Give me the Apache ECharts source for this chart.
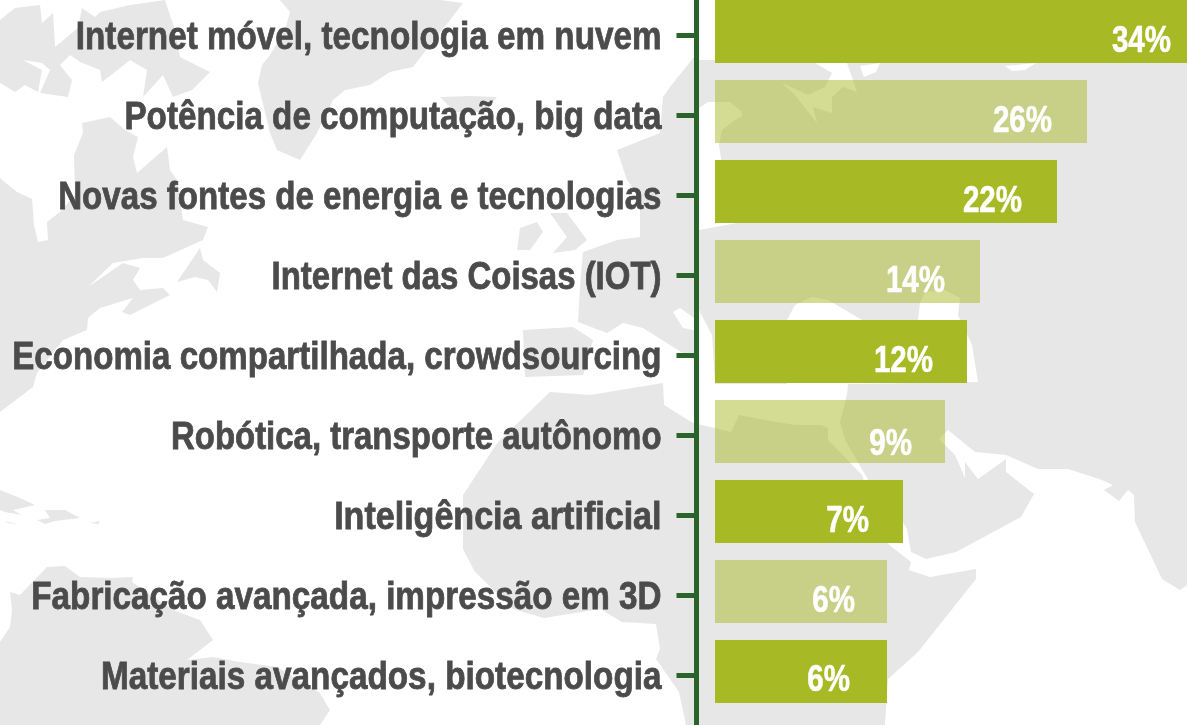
<!DOCTYPE html>
<html>
<head>
<meta charset="utf-8">
<style>
  html, body { margin: 0; padding: 0; background: #fff; }
  #chart { width: 1187px; height: 725px; }
</style>
<script src="https://cdn.jsdelivr.net/npm/echarts@6/dist/echarts.min.js"></script>
</head>
<body>
<div id="chart"></div>
<script>
const categories = [
  'Internet móvel, tecnologia em nuvem',
  'Potência de computação, big data',
  'Novas fontes de energia e tecnologias',
  'Internet das Coisas (IOT)',
  'Economia compartilhada, crowdsourcing',
  'Robótica, transporte autônomo',
  'Inteligência artificial',
  'Fabricação avançada, impressão em 3D',
  'Materiais avançados, biotecnologia'
]
// the bars in the picture are not proportional to the percentages, so keep both
const barLengths = [491, 372, 342, 265, 252, 230, 188, 172, 172]
const percentLabels = ['34%', '26%', '22%', '14%', '12%', '9%', '7%', '6%', '6%']

// layout tweaks, the labels in the original are placed by hand
const categorySqueeze = [0.875, 0.874, 0.871, 0.867, 0.871, 0.867, 0.896, 0.875, 0.876]
const percentNudgeX = [0, 0, 0, 0, 1, 2, 1, 3, -2]
const percentNudgeY = [0, 0, 0, 0, 0, 3, 0, 0, -1]

const axisColor = '#2A642B'
const textColor = '#4B4B4B'
const barColor = '#A7BA25'
const barColorLight = 'rgba(167, 186, 37, 0.5)'
const landColor = '#E7E7E7'
const fontName = '"Liberation Sans", sans-serif'

// background world map, decoration only
const land = [
  // north america
  [[0,178],[17,192],[32,199],[34,225],[38,242],[48,240],[47,222],[60,212],[75,195],[74,155],[83,133],[82,123],[110,117],[125,130],[138,137],[133,157],[137,173],[167,147],[170,170],[177,180],[183,220],[208,227],[203,240],[163,258],[143,258],[113,263],[88,287],[123,263],[140,268],[133,280],[140,290],[163,288],[170,295],[130,315],[122,312],[133,298],[100,308],[88,318],[87,330],[63,340],[37,373],[33,387],[0,412]],
  [[177,282],[200,248],[203,260],[220,273],[217,292],[208,280],[195,277]],
  [[0,20],[15,8],[40,5],[42,23],[53,13],[55,47],[78,28],[82,8],[95,17],[100,12],[130,5],[165,0],[175,30],[180,57],[210,72],[192,90],[173,97],[163,75],[143,97],[147,70],[130,60],[115,72],[102,82],[100,70],[80,62],[70,55],[60,65],[72,80],[68,97],[40,93],[50,70],[42,63],[23,60],[42,70],[38,92],[25,85],[15,92],[0,83]],
  // greenland, iceland
  [[280,0],[290,12],[285,30],[270,55],[262,65],[258,83],[270,133],[277,150],[300,160],[317,133],[333,100],[345,90],[370,85],[390,72],[413,67],[430,45],[450,20],[463,3],[440,0]],
  [[440,97],[470,96],[497,97],[485,112],[455,112]],
  // europe, britain, ireland, iberia
  [[694,57],[670,87],[663,97],[660,133],[617,150],[627,180],[640,197],[640,227],[640,237],[617,240],[583,252],[580,287],[578,322],[607,333],[623,323],[643,328],[670,345],[694,360]],
  [[550,213],[567,213],[587,240],[575,250],[553,253],[567,237]],
  [[520,228],[537,222],[543,232],[530,250],[517,250]],
  [[523,330],[573,327],[593,340],[587,363],[583,375],[525,377]],
  // africa
  [[550,392],[590,395],[663,383],[664,405],[693,423],[715,428],[731,432],[739,415],[765,420],[795,425],[821,425],[828,428],[828,440],[862,475],[888,544],[911,562],[909,570],[930,577],[976,569],[976,579],[918,652],[888,679],[885,725],[686,725],[679,692],[656,659],[660,649],[656,624],[622,622],[600,609],[544,618],[513,609],[475,572],[463,549],[463,495],[498,442]],
  // eurasia
  [[715,0],[1187,0],[1187,585],[1180,590],[1162,579],[1135,522],[1134,495],[1128,490],[1119,501],[1104,490],[1113,485],[1102,480],[1068,469],[1038,469],[1006,455],[975,452],[948,430],[939,439],[955,455],[965,478],[965,462],[978,479],[1006,459],[1006,472],[1034,494],[1021,517],[956,552],[926,559],[911,552],[907,529],[895,510],[880,500],[845,440],[840,422],[847,395],[848,384],[699,384],[699,60],[715,60]],
  // south america
  [[0,642],[10,627],[12,610],[10,592],[20,595],[47,567],[65,566],[80,577],[110,578],[133,577],[132,582],[173,610],[200,620],[213,640],[187,660],[213,657],[240,662],[277,667],[320,693],[330,710],[320,725],[0,725]],
  // caribbean
  [[0,490],[20,498],[35,505],[13,510],[22,515],[5,512],[0,510]],
  [[37,520],[50,518],[45,510],[65,510],[80,518],[55,521],[45,524]],
  [[90,523],[100,521],[98,524]],
  [[5,521],[18,524],[8,523]]
]
const water = [
  [[699,108],[708,102],[730,102],[742,112],[742,116],[732,122],[722,130],[719,145],[722,165],[730,190],[737,223],[699,230]],
  [[815,63],[832,73],[825,87],[808,95],[782,83],[795,95],[817,123],[813,107],[832,113],[832,97],[843,87],[857,92],[847,63]],
  [[860,66],[880,63],[876,72],[864,77]],
  [[1005,66],[1036,63],[1025,70],[1012,71]],
  [[699,310],[712,335],[715,384],[699,384]],
  [[673,312],[680,308],[694,318],[694,330],[683,328]],
  [[787,320],[795,305],[812,297],[828,300],[862,320],[918,320],[920,303],[925,292],[945,290],[960,298],[958,315],[972,345],[978,382],[850,384],[787,384]]
]

function mapPolygons(shapes, fill) {
  return shapes.map(points => ({
    type: 'polygon',
    silent: true,
    z: -1,
    shape: {points: points},
    style: {fill: fill}
  }))
}

const chart = echarts.init(document.getElementById('chart'))

const option = {
  backgroundColor: '#fff',
  animation: false,
  graphic: {elements: mapPolygons(land, landColor).concat(mapPolygons(water, '#fff'))},
  // first grid holds the bars, second one the axis: ticks sit a bit lower than the bar centres
  grid: [
    {left: 715, top: -8.5, width: 491, height: 720, outerBoundsMode: 'none'},
    {left: 696.5, top: -5, width: 400, height: 800, outerBoundsMode: 'none'}
  ],
  xAxis: [
    {gridIndex: 0, type: 'value', min: 0, max: 491, show: false},
    {gridIndex: 1, type: 'value', min: 0, max: 100, show: false}
  ],
  yAxis: [
    {gridIndex: 0, type: 'category', inverse: true, data: categories, show: false},
    {
      gridIndex: 1,
      type: 'category',
      inverse: true,
      data: categories.concat(['']),
      axisLine: {show: true, lineStyle: {color: axisColor, width: 5}},
      axisTick: {show: true, interval: 0, alignWithLabel: true, length: 20, lineStyle: {color: axisColor, width: 5}},
      axisLabel: {show: false}
    }
  ],
  series: [
    {
      type: 'bar',
      xAxisIndex: 0,
      yAxisIndex: 0,
      barWidth: 63,
      data: barLengths.map((v, i) => ({
        value: v,
        itemStyle: {color: i % 2 ? barColorLight : barColor}
      }))
    },
    // the labels are condensed type in the original, text elements can be squeezed
    {
      type: 'custom',
      xAxisIndex: 1,
      yAxisIndex: 1,
      clip: false,
      z: 5,
      data: categories.map((c, i) => [0, i]),
      renderItem: (params, api) => {
        const pos = api.coord([0, api.value(1)])
        return {
          type: 'text',
          x: pos[0] - 35,
          y: pos[1] + 4,
          scaleX: categorySqueeze[params.dataIndex],
          style: {
            text: categories[params.dataIndex],
            fill: textColor,
            stroke: textColor,
            lineWidth: 0.8,
            font: 'bold 38px ' + fontName,
            align: 'right',
            verticalAlign: 'middle'
          }
        }
      }
    },
    {
      type: 'custom',
      xAxisIndex: 0,
      yAxisIndex: 0,
      clip: false,
      z: 5,
      data: barLengths.map((v, i) => [v, i]),
      renderItem: (params, api) => {
        const i = params.dataIndex
        const pos = api.coord([api.value(0), api.value(1)])
        return {
          type: 'text',
          x: pos[0] - 35 + percentNudgeX[i],
          y: pos[1] + 11 + percentNudgeY[i],
          scaleX: 0.82,
          style: {
            text: percentLabels[i],
            fill: '#fff',
            stroke: '#fff',
            lineWidth: 0.6,
            font: 'bold 36px ' + fontName,
            align: 'right',
            verticalAlign: 'middle'
          }
        }
      }
    }
  ]
}
chart.setOption(option)
</script>
</body>
</html>
